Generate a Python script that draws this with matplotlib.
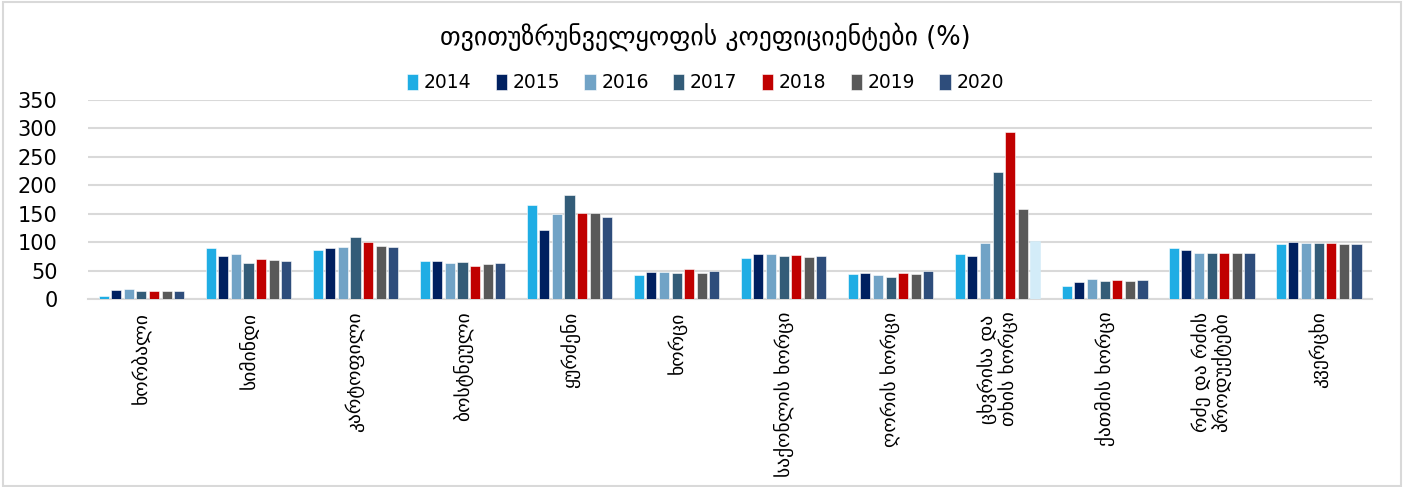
import numpy as np
import matplotlib.pyplot as plt
from matplotlib.patches import Rectangle

plt.rcParams['font.family'] = ['DejaVu Sans']

# Data
categories = [
    "ხორბალი",
    "სიმინდი",
    "კარტოფილი",
    "ბოსტნეული",
    "ყურძენი",
    "ხორცი",
    "საქონლის ხორცი",
    "ღორის ხორცი",
    "ცხვრისა და\nთხის ხორცი",
    "ქათმის ხორცი",
    "რძე და რძის\nპროდუქტები",
    "კვერცხი",
]

years = ["2014", "2015", "2016", "2017", "2018", "2019", "2020"]

v2014 = [6, 90, 87, 66, 165, 42, 72, 44, 79, 23, 89, 96]
v2015 = [16, 76, 89, 66, 121, 48, 79, 46, 75, 30, 86, 101]
v2016 = [18, 79, 92, 63, 150, 48, 79, 42, 99, 35, 81, 99]
v2017 = [14, 63, 109, 65, 182, 46, 76, 39, 223, 32, 81, 98]
v2018 = [14, 70, 101, 58, 151, 52, 77, 45, 294, 33, 80, 98]
v2019 = [14, 69, 93, 62, 151, 46, 73, 44, 158, 31, 80, 96]
v2020 = [14, 67, 92, 63, 144, 49, 76, 50, 102, 33, 80, 97]

series = [v2014, v2015, v2016, v2017, v2018, v2019, v2020]
colors = ["#1FADE4", "#002060", "#71A3C6", "#335C78", "#C00000", "#595959", "#2E4D7B"]

fig = plt.figure(figsize=(14.05, 4.87), dpi=100)
ax = fig.add_axes([0.0626, 0.386, 0.914, 0.409])

x = np.arange(len(categories))
step = 0.118
width = 0.094
for i, (yr, vals, col) in enumerate(zip(years, series, colors)):
    pos = x + (i - 3) * step
    bars = ax.bar(pos, vals, width=width, color=col, label=yr,
                  edgecolor="white", linewidth=0.4, zorder=3)
    if yr == "2020":
        # last bar of sheep/goat group is drawn pale in the original
        bars[8].set_color("#D3ECF8")

ax.set_xlim(-0.5, len(categories) - 0.5)
ax.set_ylim(0, 350)
ax.set_yticks(range(0, 351, 50))
ax.tick_params(axis="y", labelsize=15, length=0, pad=22)
ax.tick_params(axis="x", length=0, pad=9)
ax.set_xticks(x)
ax.set_xticklabels(categories, rotation=90, fontsize=14, va="top", ha="center",
                   linespacing=1.1)
for lbl in ax.get_yticklabels():
    lbl.set_horizontalalignment("right")

ax.grid(axis="y", color="#D9D9D9", linewidth=1.5, zorder=0)
for s in ["top", "right", "left"]:
    ax.spines[s].set_visible(False)
ax.spines["bottom"].set_color("#D9D9D9")
ax.spines["bottom"].set_linewidth(1.5)

fig.text(0.502, 0.925, "თვითუზრუნველყოფის კოეფიციენტები (%)",
         ha="center", va="center", fontsize=18.5)

fig.legend(loc="center", bbox_to_anchor=(0.502, 0.83), ncol=7, frameon=False,
           fontsize=13.5, handlelength=0.6, handleheight=0.9, handletextpad=0.3,
           columnspacing=1.3)

fig.patches.append(Rectangle((0.002, 0.003), 0.995, 0.993, transform=fig.transFigure,
                             fill=False, edgecolor="#D9D9D9", linewidth=1.5))

fig.savefig("out.png", dpi=100)
